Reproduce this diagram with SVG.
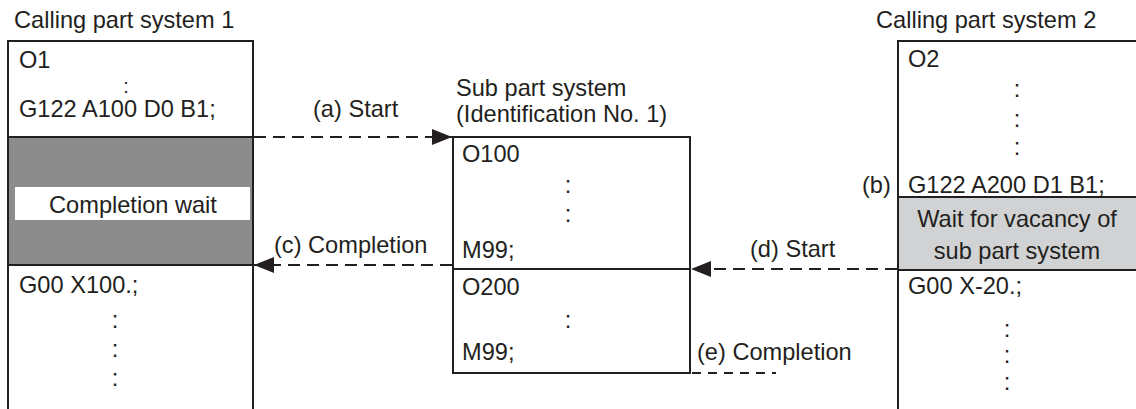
<svg xmlns="http://www.w3.org/2000/svg" width="1136" height="409" viewBox="0 0 1136 409">
<style>
text{font-family:"Liberation Sans",Arial,sans-serif;font-size:23.6px;fill:#231f20}
.mid{text-anchor:middle}
.box{fill:#fff;stroke:#231f20;stroke-width:2}
.ln{stroke:#231f20;stroke-width:2;fill:none}
.dash{stroke:#231f20;stroke-width:2;fill:none;stroke-dasharray:12 7}
.dash2{stroke:#231f20;stroke-width:2;fill:none;stroke-dasharray:9 7}
</style>
<defs>
<marker id="ah" viewBox="0 0 20 16" refX="20" refY="8" markerWidth="20" markerHeight="16" markerUnits="userSpaceOnUse" orient="auto">
<path d="M0,0 L20,8 L0,16 Z" fill="#231f20"/>
</marker>
</defs>

<g id="caller1">
<text x="14" y="28">Calling part system 1</text>
<rect x="8" y="137" width="245" height="128" fill="#8c8c8d"/>
<rect x="15" y="187" width="235" height="33" fill="#fff"/>
<path class="ln" d="M8,409 V41 H253 V409 M8,137 H253 M8,265 H253"/>
<text x="19" y="68">O1</text>
<text x="126" y="93" class="mid" style="font-size:20px">:</text>
<text x="19" y="117">G122 A100 D0 B1;</text>
<text x="133" y="213" class="mid">Completion wait</text>
<text x="19" y="293">G00 X100.;</text>
<text x="115" y="328" class="mid">:</text>
<text x="115" y="357" class="mid">:</text>
<text x="115" y="386" class="mid">:</text>
</g>

<g id="sub">
<text x="456" y="96">Sub part system</text>
<text x="456" y="122">(Identification No. 1)</text>
<rect class="box" x="453" y="137" width="237" height="236"/>
<path class="ln" d="M453,269 H690"/>
<text x="462" y="162">O100</text>
<text x="568" y="193" class="mid">:</text>
<text x="568" y="222" class="mid">:</text>
<text x="462" y="258">M99;</text>
<text x="462" y="295">O200</text>
<text x="568" y="328" class="mid">:</text>
<text x="462" y="360">M99;</text>
</g>

<g id="caller2">
<text x="876" y="28">Calling part system 2</text>
<rect x="898" y="197" width="240" height="73" fill="#d1d2d3"/>
<path class="ln" d="M898,409 V41 H1138 M898,197 H1138 M898,270 H1138"/>
<text x="908" y="67">O2</text>
<text x="1017" y="97" class="mid">:</text>
<text x="1017" y="127" class="mid">:</text>
<text x="1017" y="155" class="mid">:</text>
<text x="862" y="193">(b)</text>
<text x="908" y="193">G122 A200 D1 B1;</text>
<text x="1017" y="227" class="mid">Wait for vacancy of</text>
<text x="1017" y="259" class="mid">sub part system</text>
<text x="908" y="294">G00 X-20.;</text>
<text x="1007" y="337" class="mid">:</text>
<text x="1007" y="363" class="mid">:</text>
<text x="1007" y="390" class="mid">:</text>
</g>

<g id="connectors">
<path class="dash" d="M254,137 H452" marker-end="url(#ah)"/>
<path class="dash" d="M452,265 H254" marker-end="url(#ah)"/>
<path class="dash" d="M897,269 H691" marker-end="url(#ah)"/>
<path class="dash2" d="M692,373 H776"/>
<text x="313" y="117">(a) Start</text>
<text x="274" y="253">(c) Completion</text>
<text x="750" y="257">(d) Start</text>
<text x="697" y="360">(e) Completion</text>
</g>
</svg>
